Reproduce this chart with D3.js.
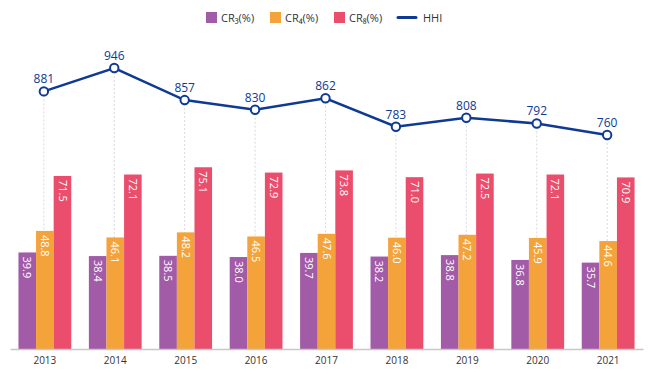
<!DOCTYPE html>
<html><head><meta charset="utf-8">
<script src="https://cdn.jsdelivr.net/npm/d3@7"></script>
<style>body{margin:0;background:#fff}svg{display:block}</style>
</head><body><svg id="c" width="650" height="374"></svg>
<script>
const years = ["2013","2014","2015","2016","2017","2018","2019","2020","2021"];
const cr3 = [39.9,38.4,38.5,38.0,39.7,38.2,38.8,36.8,35.7];
const cr4 = [48.8,46.1,48.2,46.5,47.6,46.0,47.2,45.9,44.6];
const cr8 = [71.5,72.1,75.1,72.9,73.8,71.0,72.5,72.1,70.9];
const hhi = [881,946,857,830,862,783,808,792,760];
const seriesNames = ["CR₃(%)","CR₄(%)","CR₈(%)"];
const colors = ["#A25BA6","#F4A33A","#EB4D6C"];
const lineColor = "#0E3A94";

const svg = d3.select("#c");
const font = "'Open Sans', 'Noto Sans', sans-serif";
const x = d3.scaleBand().domain(years).range([10,643]).paddingInner(0.25).paddingOuter(0.12);
const y = d3.scaleLinear().domain([0,100]).range([349,107]);
const yh = d3.scaleLinear().domain([760,946]).range([135,68]);
const bw = 17.6;
const series = [cr3,cr4,cr8];
const cx = d => x(d) + x.bandwidth()/2;

// dotted guide lines
svg.append("g").selectAll("line").data(years).join("line")
  .attr("x1", (d)=>cx(d)-1).attr("x2",(d)=>cx(d)-1)
  .attr("y1",(d,i)=>yh(hhi[i])).attr("y2",349)
  .attr("stroke","#d9d9d9").attr("stroke-width",1).attr("stroke-dasharray","2,2");

// bars
series.forEach((s,k)=>{
  const g = svg.append("g");
  g.selectAll("rect").data(years).join("rect")
    .attr("x",d=>cx(d)-1.5*bw + k*bw).attr("width",bw)
    .attr("y",(d,i)=>y(s[i])).attr("height",(d,i)=>349-y(s[i]))
    .attr("fill",colors[k]);
  g.selectAll("text").data(years).join("text")
    .attr("transform",(d,i)=>`translate(${cx(d)-1.5*bw + k*bw + bw/2},${y(s[i])+4}) rotate(90)`)
    .attr("dy","0.35em").attr("text-anchor","start")
    .attr("fill","#fff").attr("font-family",font).attr("font-size",11)
    .text((d,i)=>s[i].toFixed(1));
});

// axis
const ax = svg.append("g").attr("transform","translate(0,349)")
  .call(d3.axisBottom(x).tickSize(0).tickPadding(8));
ax.select(".domain").attr("stroke","#c8c8c8").attr("stroke-width",1.5);
ax.selectAll("text").attr("font-family",font).attr("font-size",10).attr("fill","#333");

// HHI line
const line = d3.line().x((d,i)=>cx(years[i])-1).y(d=>yh(d));
svg.append("path").datum(hhi).attr("d",line).attr("fill","none")
  .attr("stroke",lineColor).attr("stroke-width",2.5);
svg.append("g").selectAll("circle").data(hhi).join("circle")
  .attr("cx",(d,i)=>cx(years[i])-1).attr("cy",d=>yh(d)).attr("r",4.2)
  .attr("fill","#fff").attr("stroke",lineColor).attr("stroke-width",2);
svg.append("g").selectAll("text").data(hhi).join("text")
  .attr("x",(d,i)=>cx(years[i])-1).attr("y",d=>yh(d)-8)
  .attr("text-anchor","middle").attr("fill",lineColor)
  .attr("font-family",font).attr("font-size",12).text(d=>d);

// legend
const lg = svg.append("g").attr("font-family",font).attr("font-size",11).attr("fill","#333");
const lx = [206,270,334];
seriesNames.forEach((n,k)=>{
  lg.append("rect").attr("x",lx[k]).attr("y",12).attr("width",11).attr("height",11).attr("fill",colors[k]);
  lg.append("text").attr("x",lx[k]+15).attr("y",21.5).text(n);
});
lg.append("line").attr("x1",398).attr("x2",416).attr("y1",17.5).attr("y2",17.5)
  .attr("stroke",lineColor).attr("stroke-width",3).attr("stroke-linecap","round");
lg.append("text").attr("x",423).attr("y",21.5).text("HHI");
</script></body></html>
